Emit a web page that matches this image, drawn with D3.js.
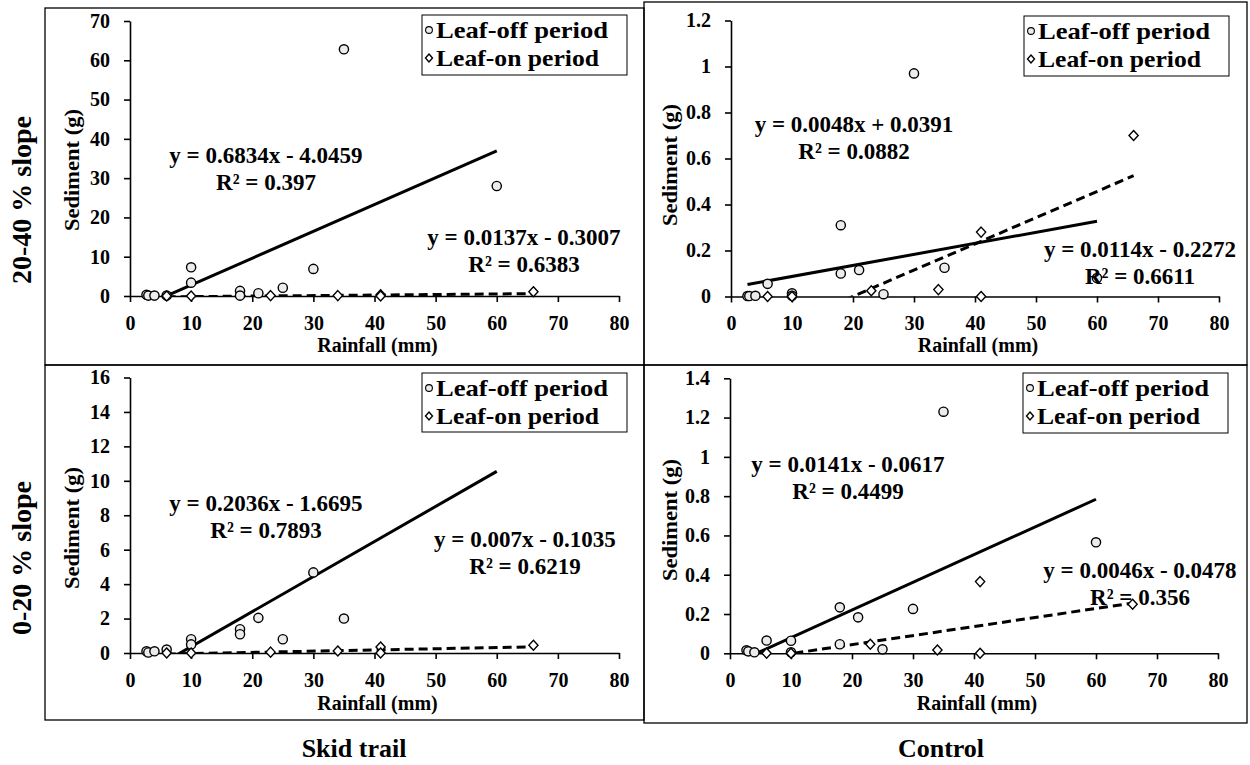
<!DOCTYPE html>
<html>
<head>
<meta charset="utf-8">
<script src="https://cdn.jsdelivr.net/npm/d3@7/dist/d3.min.js"></script>
<style>
  html, body { margin: 0; padding: 0; background: #fff; }
  svg { display: block; }
  svg text { font-family: "Liberation Serif", "Times New Roman", Times, serif !important; font-weight: bold; fill: #000; }
</style>
</head>
<body>
<svg id="chart" width="1250" height="765" font-family="Liberation Serif, Times New Roman, serif"></svg>
<script>
// Rainfall events (mm)
const rainLeafOff = [2.7, 3, 4, 6, 10, 10, 18, 18, 21, 25, 30, 35, 60];
const rainLeafOn = [6, 10, 23, 34, 41, 41, 66];

// Sediment (g) per panel
const skidSteepOff = [0.3, 0.1, 0.1, 0.1, 7.3, 3.4, 1.3, 0.1, 0.7, 2.1, 6.9, 62.8, 28.0];
const skidSteepOn = [0, 0, 0.1, 0.1, 0.3, 0, 1.1];
const controlSteepOff = [0.002, 0.002, 0.003, 0.055, 0.014, 0.003, 0.31, 0.10, 0.115, 0.01, 0.97, 0.125, 0.08];
const controlSteepOn = [0, 0, 0.025, 0.03, 0.28, 0, 0.70];
const skidGentleOff = [0.1, 0.03, 0.1, 0.2, 0.8, 0.5, 1.38, 1.09, 2.04, 0.8, 4.68, 2.0, 14.0];
const skidGentleOn = [0, 0, 0.05, 0.12, 0.35, 0, 0.45];
const controlGentleOff = [0.015, 0.01, 0.005, 0.065, 0.064, 0.005, 0.234, 0.046, 0.183, 0.02, 0.226, 1.23, 0.565];
const controlGentleOn = [0, 0, 0.046, 0.017, 0.365, 0, 0.25];

// Linear trendlines [slope, intercept, R²]
const trendSkidSteepOff = [0.6834, -4.0459, "0.397"];
const trendSkidSteepOn = [0.0137, -0.3007, "0.6383"];
const trendControlSteepOff = [0.0048, 0.0391, "0.0882"];
const trendControlSteepOn = [0.0114, -0.2272, "0.6611"];
const trendSkidGentleOff = [0.2036, -1.6695, "0.7893"];
const trendSkidGentleOn = [0.007, -0.1035, "0.6219"];
const trendControlGentleOff = [0.0141, -0.0617, "0.4499"];
const trendControlGentleOn = [0.0046, -0.0478, "0.356"];

// Axis ticks
const xTicks = [0, 10, 20, 30, 40, 50, 60, 70, 80];
const yTicksSkidSteep = [0, 10, 20, 30, 40, 50, 60, 70];
const yTicksControlSteep = [0, 0.2, 0.4, 0.6, 0.8, 1, 1.2];
const yTicksSkidGentle = [0, 2, 4, 6, 8, 10, 12, 14, 16];
const yTicksControlGentle = [0, 0.2, 0.4, 0.6, 0.8, 1, 1.2, 1.4];

const legendLabels = ["Leaf-off period", "Leaf-on period"];
const rowLabels = ["20-40 % slope", "0-20 % slope"];
const columnLabels = ["Skid trail", "Control"];

const FONT = '"Liberation Serif", "Times New Roman", Times, serif';
const svg = d3.select("#chart");

// Panel frames
const frames = [
  { x: 45, y: 8, w: 599, h: 357 },
  { x: 45, y: 365, w: 599, h: 355 },
  { x: 644, y: 2, w: 603, h: 363 },
  { x: 644, y: 365, w: 603, h: 358 }
];
svg.selectAll("rect.frame").data(frames).join("rect")
  .attr("class", "frame")
  .attr("x", d => d.x).attr("y", d => d.y)
  .attr("width", d => d.w).attr("height", d => d.h)
  .attr("fill", "none").attr("stroke", "#000").attr("stroke-width", 1.3);

const fmt = v => String(v);

const panels = [
  { id: "a", px: [130, 619], py: [296, 21], yTicks: yTicksSkidSteep,
    off: skidSteepOff, on: skidSteepOn, tOff: trendSkidSteepOff, tOn: trendSkidSteepOn,
    eqOff: { x: 266, y: 155 }, eqOn: { x: 524, y: 237 },
    legend: { x: 422, y: 15, w: 205, h: 60 }, yTitle: { x: 72, y: 170 }, xTitle: 345, xLab: 323 },
  { id: "b", px: [731, 1219], py: [296.5, 20.5], yTicks: yTicksControlSteep,
    off: controlSteepOff, on: controlSteepOn, tOff: trendControlSteepOff, tOn: trendControlSteepOn,
    eqOff: { x: 854, y: 124 }, eqOn: { x: 1140, y: 249 },
    legend: { x: 1024, y: 16, w: 205, h: 60 }, yTitle: { x: 670, y: 165 }, xTitle: 345, xLab: 323 },
  { id: "c", px: [130, 619], py: [653, 377.5], yTicks: yTicksSkidGentle,
    off: skidGentleOff, on: skidGentleOn, tOff: trendSkidGentleOff, tOn: trendSkidGentleOn,
    eqOff: { x: 266, y: 503 }, eqOn: { x: 525, y: 539 },
    legend: { x: 422, y: 373, w: 205, h: 59 }, yTitle: { x: 72, y: 528 }, xTitle: 703, xLab: 680 },
  { id: "d", px: [730, 1218], py: [653.3, 378.3], yTicks: yTicksControlGentle,
    off: controlGentleOff, on: controlGentleOn, tOff: trendControlGentleOff, tOn: trendControlGentleOn,
    eqOff: { x: 848, y: 464 }, eqOn: { x: 1140, y: 570 },
    legend: { x: 1023, y: 373, w: 205, h: 60 }, yTitle: { x: 670, y: 520 }, xTitle: 703, xLab: 680 }
];

// Diamond marker outline of half-width w and half-height h
const diamondPath = (w, h) => `M0,${-h}L${w},0L0,${h}L${-w},0Z`;

panels.forEach(p => {
  const yMax = p.yTicks[p.yTicks.length - 1];
  const x = d3.scaleLinear().domain([0, 80]).range(p.px);
  const y = d3.scaleLinear().domain([0, yMax]).range(p.py);
  const g = svg.append("g");

  g.append("clipPath").attr("id", "clip-" + p.id)
    .append("rect")
    .attr("x", p.px[0]).attr("y", p.py[1])
    .attr("width", p.px[1] - p.px[0]).attr("height", p.py[0] - p.py[1]);

  // Axes
  const xAxis = g.append("g").attr("transform", `translate(0,${p.py[0]})`)
    .call(d3.axisBottom(x).tickValues(xTicks).tickSize(6).tickSizeOuter(0).tickFormat(fmt));
  const yAxis = g.append("g").attr("transform", `translate(${p.px[0]},0)`)
    .call(d3.axisLeft(y).tickValues(p.yTicks).tickSize(6).tickSizeOuter(0).tickPadding(14).tickFormat(fmt));
  [xAxis, yAxis].forEach(a => {
    a.attr("font-family", FONT);
    a.selectAll("path.domain").attr("stroke", "#000").attr("stroke-width", 1.6);
    a.selectAll(".tick line").attr("stroke", "#000").attr("stroke-width", 1.6);
    a.selectAll(".tick text").style("font-family", FONT)
      .style("font-weight", "bold").style("font-size", "20px").attr("fill", "#000");
  });
  xAxis.selectAll(".tick text").attr("y", p.xLab - p.py[0]).attr("dy", "0.35em");

  // Axis titles
  g.append("text").attr("x", (p.px[0] + p.px[1]) / 2 + 3).attr("y", p.xTitle)
    .attr("text-anchor", "middle").attr("dominant-baseline", "central")
    .style("font-size", "20px").text("Rainfall (mm)");
  g.append("text").attr("transform", `translate(${p.yTitle.x},${p.yTitle.y}) rotate(-90)`)
    .attr("text-anchor", "middle").attr("dominant-baseline", "central")
    .attr("textLength", 122).attr("lengthAdjust", "spacingAndGlyphs")
    .style("font-size", "20px").text("Sediment (g)");

  // Trendlines across each series' rainfall range, clipped to the plot area
  const trend = (t, xs) => {
    const ext = d3.extent(xs);
    return [[ext[0], t[0] * ext[0] + t[1]], [ext[1], t[0] * ext[1] + t[1]]];
  };
  const line = d3.line().x(d => x(d[0])).y(d => y(d[1]));
  const lines = g.append("g").attr("clip-path", `url(#clip-${p.id})`);
  lines.append("path").attr("d", line(trend(p.tOff, rainLeafOff)))
    .attr("stroke", "#000").attr("stroke-width", 3).attr("fill", "none");
  lines.append("path").attr("d", line(trend(p.tOn, rainLeafOn)))
    .attr("stroke", "#000").attr("stroke-width", 3).attr("fill", "none")
    .attr("stroke-dasharray", "9,5");

  // Leaf-off points (circles) and leaf-on points (diamonds)
  g.append("g").selectAll("circle").data(rainLeafOff.map((r, i) => [r, p.off[i]])).join("circle")
    .attr("cx", d => x(d[0])).attr("cy", d => y(d[1])).attr("r", 4.6)
    .attr("fill", "#ececec").attr("stroke", "#000").attr("stroke-width", 1.4);
  g.append("g").selectAll("path").data(rainLeafOn.map((r, i) => [r, p.on[i]])).join("path")
    .attr("d", diamondPath(4.6, 5))
    .attr("transform", d => `translate(${x(d[0])},${y(d[1])})`)
    .attr("fill", "#fff").attr("stroke", "#000").attr("stroke-width", 1.4);

  // Trendline equations
  const eq = (t, pos) => {
    const sign = t[1] < 0 ? "-" : "+";
    const txt = g.append("text").attr("text-anchor", "middle").style("font-size", "23px");
    txt.append("tspan").attr("x", pos.x).attr("y", pos.y).attr("dominant-baseline", "central")
      .text(`y = ${t[0]}x ${sign} ${Math.abs(t[1])}`);
    txt.append("tspan").attr("x", pos.x).attr("y", pos.y + 27).attr("dominant-baseline", "central")
      .text(`R² = ${t[2]}`);
  };
  eq(p.tOff, p.eqOff);
  eq(p.tOn, p.eqOn);

  // Legend
  const L = p.legend;
  const lg = g.append("g");
  lg.append("rect").attr("x", L.x).attr("y", L.y).attr("width", L.w).attr("height", L.h)
    .attr("fill", "#fff").attr("stroke", "#000").attr("stroke-width", 1);
  legendLabels.forEach((lab, i) => {
    const cy = L.y + 15 + i * 28;
    if (i === 0) {
      lg.append("circle").attr("cx", L.x + 7).attr("cy", cy).attr("r", 3.4)
        .attr("fill", "#ececec").attr("stroke", "#000").attr("stroke-width", 1.1);
    } else {
      lg.append("path").attr("d", diamondPath(3.5, 4))
        .attr("transform", `translate(${L.x + 7},${cy})`)
        .attr("fill", "#fff").attr("stroke", "#000").attr("stroke-width", 1.4);
    }
    lg.append("text").attr("x", L.x + 14).attr("y", cy).attr("dominant-baseline", "central")
      .attr("textLength", i === 0 ? 172 : 163).attr("lengthAdjust", "spacingAndGlyphs")
      .style("font-size", "23px").text(lab);
  });
});

// Row and column headings
svg.selectAll("text.row").data(rowLabels).join("text")
  .attr("class", "row")
  .attr("transform", (d, i) => `translate(21,${i === 0 ? 200 : 558}) rotate(-90)`)
  .attr("text-anchor", "middle").attr("dominant-baseline", "central")
  .style("font-size", "28px").text(d => d);
svg.selectAll("text.col").data(columnLabels).join("text")
  .attr("class", "col")
  .attr("x", (d, i) => i === 0 ? 354 : 941).attr("y", 748)
  .attr("text-anchor", "middle").attr("dominant-baseline", "central")
  .style("font-size", "26px").text(d => d);
</script>
</body>
</html>
